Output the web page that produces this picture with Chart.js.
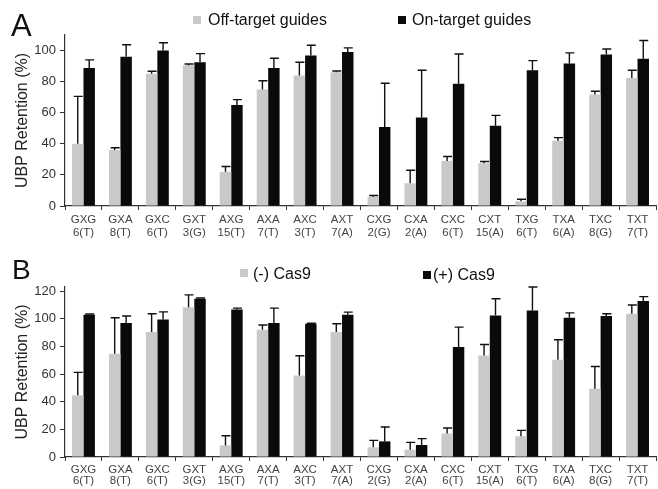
<!DOCTYPE html>
<html>
<head>
<meta charset="utf-8">
<script src="https://cdn.jsdelivr.net/npm/chart.js@4.4.0/dist/chart.umd.min.js"></script>
<style>
  body { margin: 0; background: #fff; font-family: "Liberation Sans", Arial, sans-serif; }
  #wrap { position: relative; width: 658px; height: 489px; overflow: hidden; }
  canvas { position: absolute; left: 0; }
  .lbl { position: absolute; color: #111; white-space: nowrap; line-height: 1; }
  .sq { position: absolute; width: 8px; height: 8px; }
</style>
</head>
<body>
<div id="wrap">
  <canvas id="chartA" width="658" height="240" style="top:0"></canvas>
  <canvas id="chartB" width="658" height="249" style="top:240px"></canvas>

  <div class="lbl" style="left:11px;top:10px;font-size:31px">A</div>
  <div class="sq" style="left:193px;top:16px;background:#c9c9c9"></div>
  <div class="lbl" style="left:208px;top:12px;font-size:16px">Off-target guides</div>
  <div class="sq" style="left:398px;top:16px;background:#0a0a0a"></div>
  <div class="lbl" style="left:412px;top:12px;font-size:16px">On-target guides</div>

  <div class="lbl" style="left:12px;top:256px;font-size:28px">B</div>
  <div class="sq" style="left:240px;top:269px;background:#c9c9c9"></div>
  <div class="lbl" style="left:253px;top:266px;font-size:16px">(-) Cas9</div>
  <div class="sq" style="left:423px;top:271px;background:#0a0a0a"></div>
  <div class="lbl" style="left:433px;top:267px;font-size:16px">(+) Cas9</div>
</div>
<script>
var categories = [
  ["GXG", "6(T)"], ["GXA", "8(T)"], ["GXC", "6(T)"], ["GXT", "3(G)"],
  ["AXG", "15(T)"], ["AXA", "7(T)"], ["AXC", "3(T)"], ["AXT", "7(A)"],
  ["CXG", "2(G)"], ["CXA", "2(A)"], ["CXC", "6(T)"], ["CXT", "15(A)"],
  ["TXG", "6(T)"], ["TXA", "6(A)"], ["TXC", "8(G)"], ["TXT", "7(T)"]
];

// panel A
var offTarget = [40, 36, 85, 90.5, 22, 75, 84, 86, 6, 14.6, 29, 27.5, 3, 42, 71.8, 82.4];
var offTargetErr = [30.5, 1.5, 1.7, 0.8, 3.4, 5.6, 8.5, 0.8, 0.8, 8.4, 2.8, 1.1, 1.3, 2, 2, 4.9];
var onTarget = [88.8, 96, 100, 92.5, 65, 88.8, 96.8, 99, 50.8, 57, 78.7, 51.6, 87.3, 91.6, 97.4, 94.8];
var onTargetErr = [5.2, 7.7, 5, 5.5, 3.4, 6.2, 6.6, 2.7, 28.2, 30.3, 19.1, 6.7, 6.2, 6.9, 3.6, 11.7];

// panel B
var minusCas9 = [44.6, 74.7, 90.4, 108.4, 8.4, 92, 59, 90.4, 7, 5.3, 17, 73.5, 15, 70.4, 49.4, 103.6];
var minusCas9Err = [16.6, 26, 13.2, 8.9, 7, 3.5, 14.3, 6, 5, 5.3, 4, 7.9, 4.3, 14.4, 16.1, 6.4];
var plusCas9 = [103, 97, 99.5, 114.5, 106.7, 97, 96.4, 103, 11.3, 8.7, 79.5, 102.4, 106, 100.7, 102, 112.8];
var plusCas9Err = [0.5, 5, 5.5, 0.5, 1, 10.7, 0.4, 1.8, 10.4, 4.6, 14.5, 12.1, 17, 3.6, 1.6, 3.2];

var yTicksA = [0, 20, 40, 60, 80, 100];
var yTicksB = [0, 20, 40, 60, 80, 100, 120];

var FONT = "'Liberation Sans', Arial, sans-serif";

// upper-only error bars with a small cap
var errorBars = {
  id: "errorBars",
  afterDatasetsDraw: function(chart) {
    var ctx = chart.ctx;
    var yScale = chart.scales.y;
    ctx.save();
    ctx.strokeStyle = "#111";
    ctx.lineWidth = 1.4;
    chart.data.datasets.forEach(function(ds, i) {
      var meta = chart.getDatasetMeta(i);
      meta.data.forEach(function(bar, j) {
        var top = yScale.getPixelForValue(ds.data[j] + ds.errors[j]);
        ctx.beginPath();
        ctx.moveTo(bar.x, bar.y);
        ctx.lineTo(bar.x, top);
        ctx.moveTo(bar.x - 4, top);
        ctx.lineTo(bar.x + 5, top);
        ctx.stroke();
      });
    });
    ctx.restore();
  }
};

function makeChart(id, s1, e1, s2, e2, yMax, yTicks, pad, lineH) {
  return new Chart(id, {
    type: "bar",
    data: {
      labels: categories,
      datasets: [{
        data: s1,
        errors: e1,
        backgroundColor: "#c9c9c9",
        categoryPercentage: 0.62,
        barPercentage: 1
      },
      {
        data: s2,
        errors: e2,
        backgroundColor: "#0a0a0a",
        categoryPercentage: 0.62,
        barPercentage: 1
      }]
    },
    plugins: [errorBars],
    options: {
      responsive: false,
      animation: false,
      layout: {
        padding: pad
      },
      plugins: {
        legend: {
          display: false
        },
        tooltip: {
          enabled: false
        }
      },
      scales: {
        x: {
          border: { color: "#333", width: 1.2 },
          grid: {
            offset: true,
            drawOnChartArea: false,
            tickLength: 4,
            color: "#333"
          },
          ticks: {
            color: "#444",
            padding: 3,
            maxRotation: 0,
            autoSkip: false,
            font: { family: FONT, size: 11.5, lineHeight: lineH }
          },
          afterFit: function(scale) { scale.height = 32; }
        },
        y: {
          min: 0,
          max: yMax,
          border: { color: "#333", width: 1.2 },
          grid: {
            drawOnChartArea: false,
            tickLength: 5,
            color: "#333"
          },
          afterBuildTicks: function(scale) {
            scale.ticks = yTicks.map(function(v) { return { value: v }; });
          },
          ticks: {
            color: "#333",
            padding: 4,
            font: { family: FONT, size: 13 }
          },
          title: {
            display: true,
            text: "UBP Retention (%)",
            color: "#222",
            padding: { top: 13, bottom: 0 },
            font: { family: FONT, size: 16 }
          },
          afterFit: function(scale) { scale.width = 65; }
        }
      }
    }
  });
}

makeChart("chartA", offTarget, offTargetErr, onTarget, onTargetErr, 110, yTicksA,
  { top: 35, right: 2, bottom: 2, left: 0 }, 1.15);
makeChart("chartB", minusCas9, minusCas9Err, plusCas9, plusCas9Err, 123, yTicksB,
  { top: 47, right: 2, bottom: 0, left: 0 }, 0.95);
</script>
</body>
</html>
